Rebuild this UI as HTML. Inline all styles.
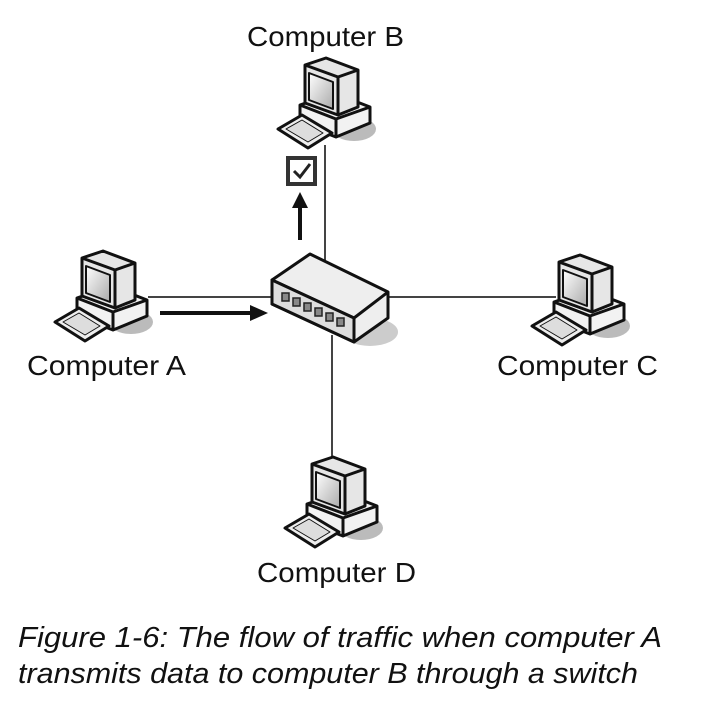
<!DOCTYPE html>
<html><head><style>html,body{margin:0;padding:0;background:#fff;}svg{display:block}</style></head>
<body>
<svg width="710" height="706" viewBox="0 0 710 706" xmlns="http://www.w3.org/2000/svg">
<defs>
<linearGradient id="scr" x1="0" y1="0" x2="1" y2="1"><stop offset="0" stop-color="#fff"/><stop offset="1" stop-color="#aaa"/></linearGradient>
<g id="pc" stroke="#111" stroke-width="3" stroke-linejoin="round">
  <ellipse cx="76" cy="72" rx="22" ry="12" fill="#bbb" stroke="none"/>
  <polygon points="22,48 56,36 92,50 92,66 58,80 22,66" fill="#f2f2f2"/>
  <polyline points="22,48 58,62 92,50" fill="none"/>
  <line x1="58" y1="62" x2="58" y2="80"/>
  <polygon points="27,8 48,1 80,13 80,50 60,58 27,46" fill="#e6e6e6"/>
  <polyline points="27,8 60,20 80,13 M60,20 60,58" fill="none"/>
  <line x1="60" y1="20" x2="60" y2="58"/>
  <polygon points="31,16 55,25 55,52 31,43" fill="url(#scr)" stroke-width="2"/>
  <polygon points="0,72 24,58 54,76 30,91" fill="#eee"/>
  <polygon points="8,72 24,63 45,76 30,85" fill="#ddd" stroke-width="1"/>
</g>
<g id="sw" stroke="#111" stroke-width="3" stroke-linejoin="round">
  <ellipse cx="100" cy="80" rx="28" ry="14" fill="#ccc" stroke="none"/>
  <polygon points="2,28 40,2 118,40 118,66 84,90 2,52" fill="#eee"/>
  <polyline points="2,28 84,66 118,40" fill="none"/>
  <line x1="84" y1="66" x2="84" y2="90"/>
  <polygon points="2,28 84,66 84,90 2,52" fill="#ddd"/>
</g>
</defs>
<g stroke="#444" stroke-width="2" fill="none">
  <line x1="325" y1="145" x2="325" y2="262"/>
  <line x1="332" y1="335" x2="332" y2="462"/>
  <line x1="148" y1="297" x2="272" y2="297"/>
  <line x1="388" y1="297" x2="556" y2="297"/>
</g>
<use href="#pc" x="278" y="57"/>
<use href="#pc" x="55" y="250"/>
<use href="#pc" x="532" y="254"/>
<use href="#pc" x="285" y="456"/>
<use href="#sw" x="270" y="252"/>
<g fill="#888" stroke="#222" stroke-width="1.5">
  <rect x="282" y="293" width="7" height="8"/><rect x="293" y="298" width="7" height="8"/><rect x="304" y="303" width="7" height="8"/>
  <rect x="315" y="308" width="7" height="8"/><rect x="326" y="313" width="7" height="8"/><rect x="337" y="318" width="7" height="8"/>
</g>
<rect x="288" y="158" width="27" height="26" fill="#fff" stroke="#333" stroke-width="4"/>
<polyline points="294,171 300,177 310,164" fill="none" stroke="#222" stroke-width="3"/>
<line x1="300" y1="240" x2="300" y2="205" stroke="#111" stroke-width="4"/>
<polygon points="292,208 300,192 308,208" fill="#111"/>
<line x1="160" y1="313" x2="252" y2="313" stroke="#111" stroke-width="4"/>
<polygon points="250,305 268,313 250,321" fill="#111"/>
<g font-family="Liberation Sans, sans-serif" font-size="28" fill="#111">
  <text x="247" y="46" textLength="157" lengthAdjust="spacingAndGlyphs">Computer B</text>
  <text x="27" y="375" textLength="159" lengthAdjust="spacingAndGlyphs">Computer A</text>
  <text x="497" y="375" textLength="161" lengthAdjust="spacingAndGlyphs">Computer C</text>
  <text x="257" y="582" textLength="159" lengthAdjust="spacingAndGlyphs">Computer D</text>
</g>
<g font-family="Liberation Sans, sans-serif" font-size="29" font-style="italic" fill="#111">
  <text x="18" y="647" textLength="644" lengthAdjust="spacingAndGlyphs">Figure 1-6: The flow of traffic when computer A</text>
  <text x="18" y="683" textLength="620" lengthAdjust="spacingAndGlyphs">transmits data to computer B through a switch</text>
</g>
</svg>
</body></html>
